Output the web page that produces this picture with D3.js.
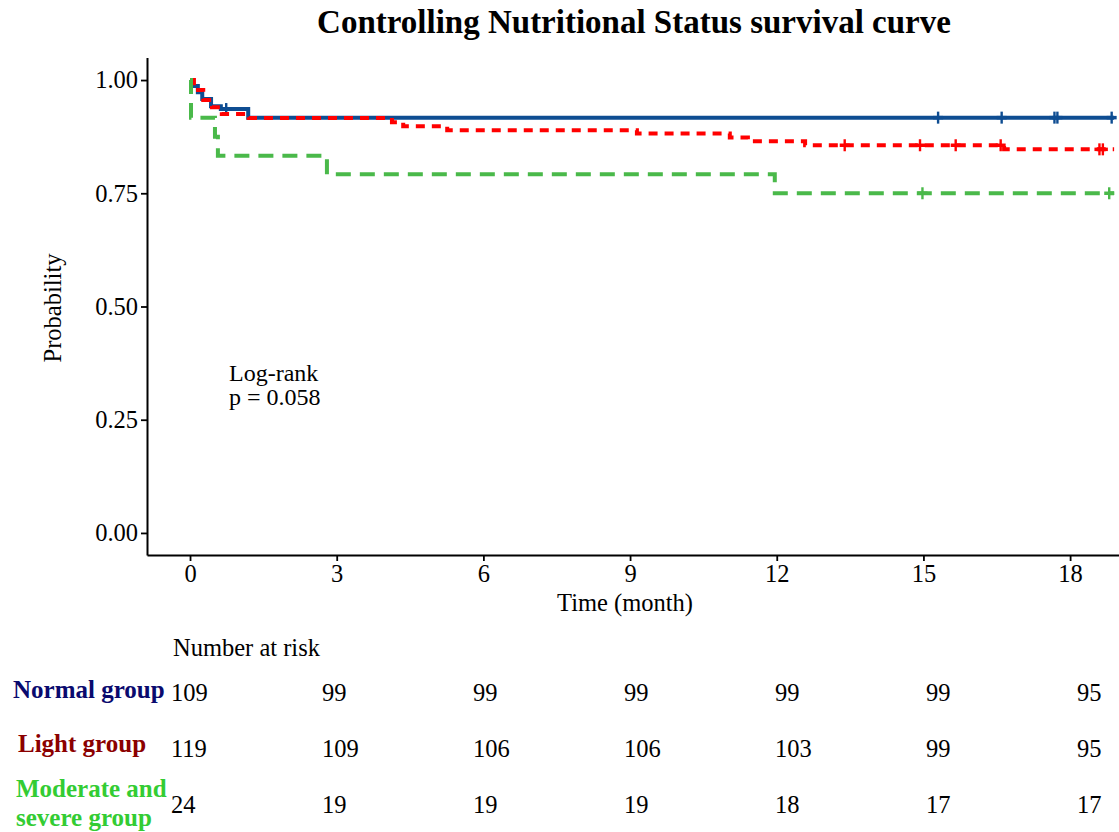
<!DOCTYPE html>
<html>
<head>
<meta charset="utf-8">
<script src="https://cdn.jsdelivr.net/npm/d3@7/dist/d3.min.js"></script>
<style>
  html, body { margin: 0; padding: 0; background: #fff; }
  svg { display: block; }
  text { font-family: "Liberation Serif", "Times New Roman", serif; }
</style>
</head>
<body>
<svg id="chart" width="1119" height="832"></svg>
<script>
// ---------------- data ----------------
const title = "Controlling Nutritional Status survival curve";
const xTicks = [0, 3, 6, 9, 12, 15, 18];
const yTicks = [0, 0.25, 0.5, 0.75, 1.0];

const groupNames = ["Normal group", "Light group", "Moderate and severe group"];
const groupLabelLines = [["Normal group"], ["Light group"], ["Moderate and", "severe group"]];

// Kaplan-Meier step curves (time in months, survival probability)
const normalTimes = [0, 0.04, 0.16, 0.25, 0.43, 0.63, 1.19, 18.9];
const normalSurv  = [1, 0.987, 0.973, 0.958, 0.942, 0.936, 0.917, 0.917];
const normalCensor = [0.74, 15.3, 16.6, 17.68, 17.74, 18.85];

const lightTimes = [0, 0.08, 0.27, 0.45, 0.65, 1.2, 4.13, 4.36, 5.26, 9.14, 11.04, 11.41, 12.58, 16.65, 18.9];
const lightSurv  = [1, 0.978, 0.956, 0.94, 0.925, 0.916, 0.907, 0.898, 0.889, 0.882, 0.873, 0.865, 0.856, 0.847, 0.847];
const lightCensor = [13.39, 14.93, 15.66, 16.58, 18.6, 18.67];

const modTimes = [0, 0.02, 0.51, 0.57, 2.8, 11.96, 18.9];
const modSurv  = [1, 0.917, 0.875, 0.833, 0.792, 0.75, 0.75];
const modCensor = [14.98, 18.8];

// number at risk
const riskNormal = [109, 99, 99, 99, 99, 99, 95];
const riskLight  = [119, 109, 106, 106, 103, 99, 95];
const riskMod    = [24, 19, 19, 19, 18, 17, 17];

const logRankLines = ["Log-rank", "p = 0.058"];

// ---------------- styles ----------------
const lineColors = ["#0E4D92", "#FF0000", "#4AB94A"];
const labelColors = ["#0A0A6E", "#8B0000", "#33CC33"];
const dashes = [null, "9,7", "15,9"];
const fs = 24.5;

const svg = d3.select("#chart");

const x = d3.scaleLinear().domain([-0.88, 19.0]).range([147, 1119]);
const y = d3.scaleLinear().domain([-0.0487, 1.05]).range([555, 57.4]);

// title
svg.append("text")
  .attr("x", 634).attr("y", 33)
  .attr("text-anchor", "middle")
  .attr("font-size", 33).attr("font-weight", "bold")
  .text(title);

// axes
const xAxis = svg.append("g")
  .attr("transform", "translate(0,555)")
  .call(d3.axisBottom(x).tickValues(xTicks).tickSize(6).tickSizeOuter(0).tickPadding(4));
const yAxis = svg.append("g")
  .attr("transform", "translate(147,0)")
  .call(d3.axisLeft(y).tickValues(yTicks).tickFormat(d3.format(".2f")).tickSize(6).tickSizeOuter(0).tickPadding(3));

[xAxis, yAxis].forEach(g => {
  g.select(".domain").attr("stroke", "#000").attr("stroke-width", 2);
  g.selectAll(".tick line").attr("stroke", "#000").attr("stroke-width", 1.8);
  g.selectAll(".tick text").attr("fill", "#000").attr("font-size", fs)
    .attr("font-family", "Liberation Serif, Times New Roman, serif");
});

// axis titles
svg.append("text")
  .attr("x", 625).attr("y", 611)
  .attr("text-anchor", "middle").attr("font-size", fs)
  .text("Time (month)");
svg.append("text")
  .attr("transform", "translate(61,308) rotate(-90)")
  .attr("text-anchor", "middle").attr("font-size", fs)
  .text("Probability");

// curves
const curves = [
  { t: normalTimes, s: normalSurv, c: normalCensor },
  { t: lightTimes, s: lightSurv, c: lightCensor },
  { t: modTimes, s: modSurv, c: modCensor }
];
const line = d3.line()
  .x(d => x(d[0])).y(d => y(d[1]))
  .curve(d3.curveStepAfter);

function survAt(cv, time) {
  let v = cv.s[0];
  for (let i = 0; i < cv.t.length; i++) { if (cv.t[i] <= time) v = cv.s[i]; }
  return v;
}

curves.forEach((cv, gi) => {
  const pts = cv.t.map((t, i) => [t, cv.s[i]]);
  const p = svg.append("path")
    .datum(pts)
    .attr("d", line)
    .attr("fill", "none")
    .attr("stroke", lineColors[gi])
    .attr("stroke-width", 4);
  if (dashes[gi]) p.attr("stroke-dasharray", dashes[gi]);

  const g = svg.append("g");
  cv.c.forEach(ct => {
    const cx = x(ct), cy = y(survAt(cv, ct));
    g.append("line")
      .attr("x1", cx).attr("x2", cx).attr("y1", cy - 6).attr("y2", cy + 6)
      .attr("stroke", lineColors[gi]).attr("stroke-width", 2.4);
    g.append("line")
      .attr("x1", cx - 5).attr("x2", cx + 5).attr("y1", cy).attr("y2", cy)
      .attr("stroke", lineColors[gi]).attr("stroke-width", 3.5);
  });
});

// log-rank annotation
svg.append("g").selectAll("text").data(logRankLines).join("text")
  .attr("x", 229).attr("y", (d, i) => 381 + i * 24)
  .attr("font-size", 24)
  .text(d => d);

// number at risk table
svg.append("text")
  .attr("x", 173).attr("y", 656).attr("font-size", fs)
  .text("Number at risk");

const tx = d3.scaleLinear().domain([0, 18]).range([171, 1077]);
const rowBase = [701, 757, 813];
const labelBase = [[698], [752], [797, 826]];
const labelX = [13, 18, 16];
const risks = [riskNormal, riskLight, riskMod];

groupNames.forEach((name, gi) => {
  groupLabelLines[gi].forEach((ln, li) => {
    svg.append("text")
      .attr("x", labelX[gi]).attr("y", labelBase[gi][li])
      .attr("font-size", 25).attr("font-weight", "bold")
      .attr("fill", labelColors[gi])
      .text(ln);
  });
  svg.append("g").selectAll("text")
    .data(risks[gi]).join("text")
    .attr("x", (d, i) => tx(xTicks[i]))
    .attr("y", rowBase[gi])
    .attr("font-size", fs)
    .text(d => d);
});
</script>
</body>
</html>
